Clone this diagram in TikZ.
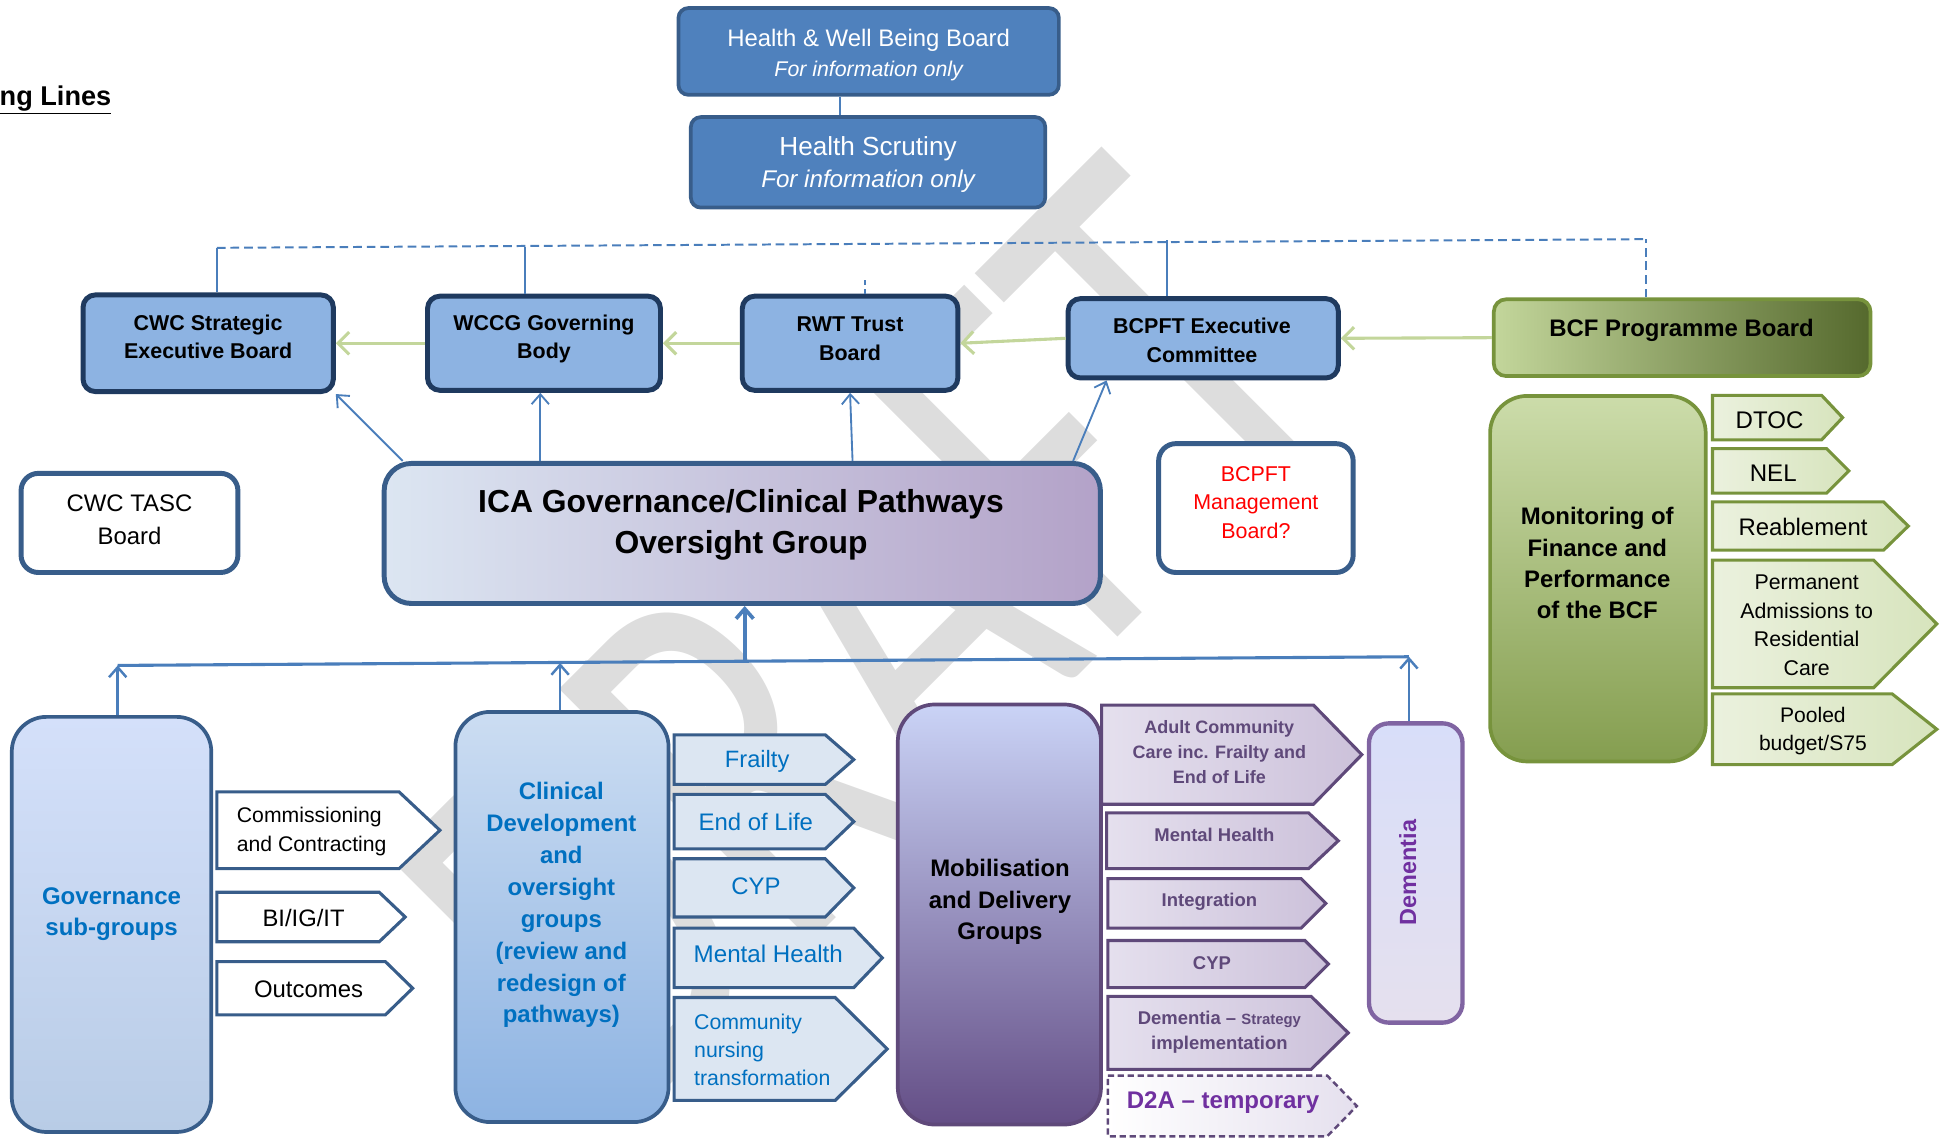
\documentclass[tikz,border=0pt]{standalone}
\usepackage{fontspec}
\setmainfont{Liberation Sans}
\newfontfamily\wmfont{Carlito}
\usetikzlibrary{arrows.meta}

\definecolor{hwbfill}{HTML}{4F81BD}
\definecolor{hwbedge}{HTML}{385D8A}
\definecolor{orgfill}{HTML}{8DB3E2}
\definecolor{orgedge}{HTML}{1F3A5F}
\definecolor{linkblue}{HTML}{4A7EBB}
\definecolor{feedgreen}{HTML}{C3D69B}
\definecolor{bcfedge}{HTML}{77933C}
\definecolor{bcfdark}{HTML}{55692D}
\definecolor{txtblue}{HTML}{0070C0}
\definecolor{chevblue}{HTML}{DCE6F2}
\definecolor{icalilac}{HTML}{B3A2C8}
\definecolor{govtop}{HTML}{D4E0FA}
\definecolor{govbot}{HTML}{B8CCE6}
\definecolor{mobtop}{HTML}{CAD3F6}
\definecolor{mobmid}{HTML}{9C91C0}
\definecolor{mobbot}{HTML}{644E86}
\definecolor{demtop}{HTML}{D8DEF9}
\definecolor{plumedge}{HTML}{5F497A}
\definecolor{purlight}{HTML}{E5E0EE}
\definecolor{purdark}{HTML}{CCC1DA}
\definecolor{d2aviolet}{HTML}{7030A0}
\definecolor{dementedge}{HTML}{8064A2}
\definecolor{grlight}{HTML}{EBF1DE}
\definecolor{grmid}{HTML}{D7E4BD}
\definecolor{wmgray}{HTML}{DDDDDD}

\newcommand\fsz[2]{\fontsize{#1}{#2}\selectfont}
% chevron: style, left, top, body end, bottom, tip
\newcommand\chev[6]{\draw[#1] (#2,#3) -- (#4,#3) -- (#6,{(#3+#5)/2}) -- (#4,#5) -- (#2,#5) -- cycle;}

\begin{document}
\begin{tikzpicture}[x=1pt, y=-1pt,
  hwbbox/.style={draw=hwbedge, line width=3pt, fill=hwbfill, rounded corners=8pt},
  orgbox/.style={draw=orgedge, line width=4pt, fill=orgfill, rounded corners=10pt},
  plainbox/.style={draw=hwbedge, line width=4pt, fill=white, rounded corners=14pt},
  lbl/.style={align=center, inner sep=0pt},
  feed/.style={draw=feedgreen, line width=2.5pt, -{Straight Barb[length=9pt,width=18pt]}},
  link/.style={draw=linkblue, line width=1.5pt, -{Straight Barb[length=8pt,width=14pt]}},
  bus/.style={draw=linkblue, line width=2.5pt},
  dbus/.style={draw=linkblue, line width=1.6pt, dash pattern=on 7pt off 4pt},
  whitech/.style={draw=hwbedge, line width=2.5pt, fill=white},
  bluech/.style={draw=hwbedge, line width=2.5pt, fill=chevblue},
  purch/.style={draw=plumedge, line width=2.5pt, left color=purlight, right color=purdark},
  d2ach/.style={draw=plumedge, line width=2pt, dash pattern=on 5pt off 3pt, left color=white, right color=purlight},
  grch/.style={draw=bcfedge, line width=2.5pt, left color=grlight, right color=grmid},
  wmark/.style={text=wmgray, font=\wmfont\fsz{312}{312}, inner sep=0pt, rotate=45, yscale=1.44}]
\useasboundingbox (0,0) rectangle (1568,919);

% watermark
\begin{scope}[shift={(698,514)}]
\node[wmark] (wm) at (0,0) {DRAFT};
\end{scope}

\node[anchor=base east, inner sep=0pt, font=\bfseries\fsz{21.9}{26}] (title) at (90,85) {\underline{ng Lines}};

% top boards
\node[hwbbox, minimum width=307pt, minimum height=70pt] (hwb) at (701,41.5) {};
\node[lbl, text=white, font=\fsz{19.3}{24}] (hwb-t) at (701,44.5)
  {Health \& Well Being Board\\{\fsz{17.2}{24}\itshape For information only}};
\node[hwbbox, minimum width=286pt, minimum height=73pt] (scr) at (700.5,131) {};
\node[lbl, text=white, font=\fsz{21.1}{26}] (scr-t) at (700.5,133)
  {Health Scrutiny\\{\fsz{19.5}{26}\itshape For information only}};
\draw[linkblue, line width=1.5pt] ([xshift=-23pt]hwb.south) -- ([xshift=-22.5pt]scr.north);

% organisation boards
\node[orgbox, minimum width=202pt, minimum height=78pt] (cwc) at (168,277) {};
\node[lbl, font=\bfseries\fsz{17.3}{23}] (cwc-t) at (168,272) {CWC Strategic\\Executive Board};
\node[orgbox, minimum width=188pt, minimum height=76pt] (wccg) at (439,277) {};
\node[lbl, font=\bfseries\fsz{17.3}{23}] (wccg-t) at (439,273.5) {WCCG Governing\\Body};
\node[orgbox, minimum width=174pt, minimum height=76pt] (rwt) at (686,277) {};
\node[lbl, font=\bfseries\fsz{17.3}{23}] (rwt-t) at (686,273.5) {RWT Trust\\Board};
\node[orgbox, minimum width=218pt, minimum height=64pt] (bcpft) at (971,273) {};
\node[lbl, font=\bfseries\fsz{17.3}{23}] (bcpft-t) at (970,274.5) {BCPFT Executive\\Committee};
\node[draw=bcfedge, line width=3pt, rounded corners=10pt, left color=feedgreen, middle color=feedgreen!45!bcfdark,
  right color=bcfdark, minimum width=304pt, minimum height=62pt] (bcf) at (1357.5,272.5) {};
\node[lbl, font=\bfseries\fsz{19.3}{23}] (bcf-t) at (1357,267) {BCF Programme Board};

% dashed line across the boards
\coordinate (busL) at (175,200);
\coordinate (busW) at (424,199);
\coordinate (busB) at (942,194);
\coordinate (busR) at (1328,193);
\draw[dbus] (busL) -- (busR);
\draw[linkblue, line width=1.5pt] ([xshift=7pt]cwc.north) -- (busL);
\draw[linkblue, line width=1.5pt] ([xshift=-15pt]wccg.north) -- (busW);
\draw[linkblue, line width=1.5pt] ([xshift=-29pt]bcpft.north) -- (busB);
\draw[dbus] ([xshift=-29.5pt]bcf.north) -- (busR);
\draw[linkblue, line width=1.5pt, dash pattern=on 4pt off 3pt] ([xshift=12pt]rwt.north) -- ++(0,-12);

% green feeds
\draw[feed] (wccg.west) -- (cwc.east);
\draw[feed] (rwt.west) -- (wccg.east);
\draw[feed] (bcpft.west) -- (rwt.east);
\draw[feed] (bcf.west) -- (bcpft.east);

% oversight group
\node[draw=hwbedge, line width=4pt, rounded corners=22pt, left color=chevblue, right color=icalilac,
  minimum width=578pt, minimum height=113pt] (ica) at (599,430.5) {};
\node[lbl, font=\bfseries\fsz{25.7}{33}] (ica-t) at (598,423.5) {ICA Governance/Clinical Pathways\\Oversight Group};
\draw[link] ([xshift=-274pt]ica.north) -- (cwc.south east);
\draw[link] ([xshift=-163pt]ica.north) -- ([xshift=-3pt]wccg.south);
\draw[link] ([xshift=89pt]ica.north) -- (rwt.south);
\draw[link] ([xshift=267pt]ica.north) -- ([xshift=-78pt]bcpft.south);

\node[plainbox, minimum width=175pt, minimum height=80pt] (tasc) at (104.5,422) {};
\node[lbl, font=\fsz{19.3}{26}] (tasc-t) at (104.5,419.5) {CWC TASC\\Board};
\node[plainbox, minimum width=157pt, minimum height=104pt] (mgmt) at (1013.5,410) {};
\node[lbl, text=red, font=\fsz{17.3}{23}] (mgmt-t) at (1013.5,405.5) {BCPFT\\Management\\Board?};

% governance sub-groups
\node[draw=hwbedge, line width=3pt, rounded corners=28pt, top color=govtop, bottom color=govbot,
  minimum width=161pt, minimum height=335pt] (gov) at (90,746) {};
\node[lbl, text=txtblue, font=\bfseries\fsz{19.4}{25}] (gov-t) at (90,737.5) {Governance\\sub-groups};
\chev{whitech}{175}{639}{322}{701}{355}
\node[lbl, align=left, anchor=west, font=\fsz{17.1}{23}] (comm-t) at (191,671) {Commissioning\\and Contracting};
\chev{whitech}{175}{720}{306}{760}{327}
\node[lbl, font=\fsz{19.2}{23}] (bi-t) at (245,741) {BI/IG/IT};
\chev{whitech}{175}{776}{311}{819}{333}
\node[lbl, font=\fsz{19.3}{23}] (outc-t) at (249,798) {Outcomes};

% clinical development
\node[draw=hwbedge, line width=3pt, rounded corners=28pt, top color=orgfill!45!white, bottom color=orgfill,
  minimum width=172pt, minimum height=331pt] (clin) at (453.5,740) {};
\node[lbl, text=txtblue, font=\bfseries\fsz{19.3}{25.7}] (clin-t) at (453,730.5)
  {Clinical\\Development\\and\\oversight\\groups\\(review and\\redesign of\\pathways)};
\chev{bluech}{544}{593}{666}{633}{689}
\node[lbl, text=txtblue, font=\fsz{19.1}{23}] (frail-t) at (611,614.5) {Frailty};
\chev{bluech}{544}{641}{666}{685}{689}
\node[lbl, text=txtblue, font=\fsz{19.3}{23}] (eol-t) at (610,663) {End of Life};
\chev{bluech}{544}{693}{666}{740}{689}
\node[lbl, text=txtblue, font=\fsz{19.3}{23}] (cyp-t) at (610,715) {CYP};
\chev{bluech}{544}{749}{689}{797}{712}
\node[lbl, text=txtblue, font=\fsz{19.5}{23}] (mh-t) at (620,770) {Mental Health};
\chev{bluech}{544}{805}{674}{888}{716}
\node[lbl, align=left, anchor=west, text=txtblue, font=\fsz{17.2}{22.5}] (cnt-t) at (560,847.5) {Community\\nursing\\transformation};

% mobilisation and delivery
\node[draw=plumedge, line width=3pt, rounded corners=30pt, top color=mobtop, middle color=mobmid,
  bottom color=mobbot, minimum width=164pt, minimum height=339pt] (mob) at (806.5,738) {};
\node[lbl, font=\bfseries\fsz{19.3}{25.5}] (mob-t) at (807,728) {Mobilisation\\and Delivery\\Groups};
\chev{purch}{889}{569}{1060}{649}{1099}
\node[lbl, text=plumedge, font=\bfseries\fsz{14.5}{20}] (acc-t) at (984,607) {Adult Community\\Care inc. Frailty and\\End of Life};
\chev{purch}{893}{656}{1056}{701}{1080}
\node[lbl, text=plumedge, font=\bfseries\fsz{14.9}{20}] (pmh-t) at (980,674) {Mental Health};
\chev{purch}{894}{709}{1050}{749}{1070}
\node[lbl, text=plumedge, font=\bfseries\fsz{14.9}{20}] (int-t) at (976,727.5) {Integration};
\chev{purch}{894}{759}{1053}{797}{1072}
\node[lbl, text=plumedge, font=\bfseries\fsz{14.9}{20}] (pcyp-t) at (978,777) {CYP};
\chev{purch}{894}{804}{1058}{863}{1088}
\node[lbl, text=plumedge, font=\bfseries\fsz{14.9}{20}] (dsi-t) at (984,833) {Dementia – {\fsz{12}{20}Strategy}\\implementation};
\chev{d2ach}{894}{868}{1071}{917}{1095}
\node[lbl, text=d2aviolet, font=\bfseries\fsz{19.4}{23}] (d2a-t) at (987,889.5) {D2A – temporary};

% dementia
\node[draw=dementedge, line width=3.5pt, rounded corners=16pt, top color=demtop, bottom color=purlight,
  minimum width=75.5pt, minimum height=241.5pt] (dem) at (1142.5,704.5) {};
\node[lbl, rotate=90, text=d2aviolet, font=\bfseries\fsz{18.9}{23}] (dem-t) at (1136,704) {Dementia};

% bus to the oversight group
\coordinate (gbus) at (95,537);
\coordinate (cbus) at (452,535);
\coordinate (mbus) at (601,533.5);
\coordinate (dbus) at (1137,530);
\draw[bus] (gbus) -- (dbus);
\draw[link, line width=3pt] (mbus) -- ([xshift=2pt]ica.south);
\draw[link, line width=2pt] ([xshift=5pt]gov.north) -- (gbus);
\draw[link, line width=2pt] ([xshift=-1.5pt]clin.north) -- (cbus);
\draw[link, line width=2pt] ([xshift=-5.5pt]dem.north) -- (dbus);

% BCF monitoring
\node[draw=bcfedge, line width=3pt, rounded corners=30pt, top color=feedgreen!85!white, bottom color=bcfedge!90!white,
  minimum width=174pt, minimum height=295pt] (mon) at (1289.5,467) {};
\node[lbl, font=\bfseries\fsz{19.3}{25.3}] (mon-t) at (1289,454.5) {Monitoring of\\Finance and\\Performance\\of the BCF};
\chev{grch}{1382}{319}{1470}{355}{1487}
\node[lbl, font=\fsz{19.4}{23}] (dtoc-t) at (1428,339) {DTOC};
\chev{grch}{1382}{362}{1474}{398}{1492}
\node[lbl, font=\fsz{19.4}{23}] (nel-t) at (1431,382) {NEL};
\chev{grch}{1382}{405}{1520}{444}{1540}
\node[lbl, font=\fsz{19.3}{23}] (reab-t) at (1455,425) {Reablement};
\chev{grch}{1382}{452}{1512}{555}{1563}
\node[lbl, font=\fsz{17.2}{23}] (perm-t) at (1458,504.5) {Permanent\\Admissions to\\Residential\\Care};
\chev{grch}{1382}{560}{1527}{617}{1563}
\node[lbl, font=\fsz{17}{23}] (pool-t) at (1463,590) {Pooled\\budget/S75};
\end{tikzpicture}
\end{document}
